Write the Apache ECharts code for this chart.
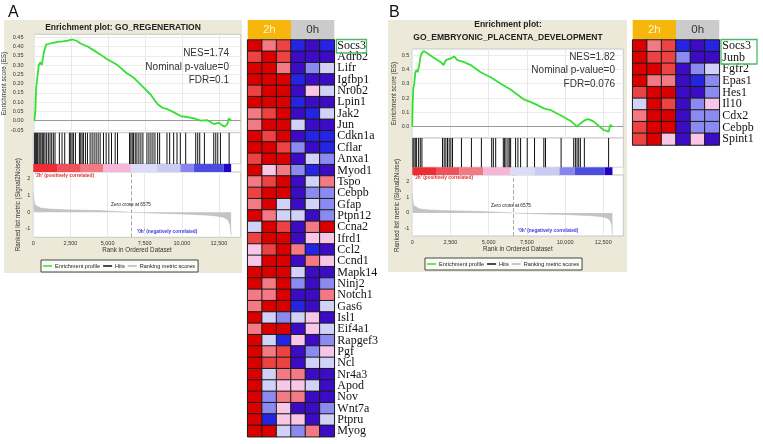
<!DOCTYPE html>
<html><head><meta charset="utf-8">
<script src="https://cdn.jsdelivr.net/npm/echarts@6/dist/echarts.min.js"></script>
<style>html,body{margin:0;padding:0;background:#fff}#c{width:763px;height:444px}</style>
</head><body><div id="c"></div>
<script>
// ---------------- DATA ----------------
const ES_A_RANK = [0,68,113,180,293,405,495,630,788,1013,1238,1577,1913,2250,2588,2880,3150,3600,4050,4500,4950,5625,6188,6750,7313,7875,8325,8663,9000,9450,9900,10350,10800,11250,11700,12150,12488,12713,12870,13050,13163,13320];
const ES_A_VAL  = [0,0.06,0.175,0.22,0.30,0.315,0.30,0.365,0.41,0.415,0.42,0.425,0.428,0.432,0.438,0.43,0.415,0.40,0.378,0.355,0.33,0.30,0.26,0.23,0.185,0.14,0.09,0.07,0.062,0.045,0.025,0.02,0.013,0.0,0.003,-0.018,-0.01,-0.025,-0.032,-0.02,0.013,0.0];
const HITS_A = [90,158,225,293,383,450,518,608,698,788,900,1013,1125,1238,1350,1463,1755,1935,2115,2430,2520,2610,2700,2835,3105,3195,3285,3375,3510,3645,3825,3960,4095,4230,4365,4500,4725,4905,5085,5265,5513,5670,6480,6570,6660,6750,6863,6975,7110,7245,7380,7650,7785,7920,8055,8190,8370,8505,9000,9180,9450,9675,9900,10260,10935,11070,11205,11520,12150,12285,12420,12600,13185];
const RANKED_A_RANK = [0,30,80,150,250,500,1100,2500,4500,5500,6575,8000,10000,11500,12300,12800,13100,13250,13320];
const RANKED_A_VAL  = [1.2,0.85,0.55,0.42,0.33,0.25,0.19,0.14,0.1,0.05,0,-0.05,-0.1,-0.16,-0.22,-0.3,-0.45,-0.75,-1.4];
const COLORBAR_A = [0,1600,3200,4725,6570,8300,9900,10800,12825,13320];

const ES_B_RANK = [0,22,65,130,196,283,348,457,522,609,739,1000,1435,1870,2043,2196,2522,2739,2957,3391,3826,4478,5130,5783,6435,7304,7957,8609,9043,9696,10348,10783,11000,11326,11543,11870,12522,12848,12957,13100];
const ES_B_VAL  = [0,0.15,0.27,0.30,0.38,0.395,0.38,0.43,0.48,0.51,0.528,0.51,0.48,0.45,0.43,0.465,0.477,0.49,0.465,0.45,0.43,0.38,0.345,0.30,0.26,0.19,0.163,0.128,0.116,0.08,0.042,0,0.023,0.047,0.053,0.035,-0.023,-0.035,0.012,0];
const HITS_B = [43,109,196,283,413,522,630,1978,2087,2196,2304,2413,2522,2630,3217,3870,4522,5196,5304,5457,5957,6043,6130,6261,6348,6435,6761,6913,7087,7522,8000,8609,8717,9739,10565,10674,10783,10891,11000,11261,12848];
const RANKED_B_RANK = [0,30,80,150,250,500,1100,2500,4500,5500,6575,8000,10000,11500,12300,12700,12950,13050,13100];
const RANKED_B_VAL  = [1.2,0.85,0.55,0.42,0.33,0.25,0.19,0.14,0.1,0.05,0,-0.05,-0.1,-0.16,-0.22,-0.3,-0.45,-0.75,-1.4];
const COLORBAR_B = [0,1550,3100,4630,6435,8000,9630,10630,12590,13100];

const RANK_TICKS = [0,2500,5000,7500,10000,12500];
const ES_A_TICKS = [-0.05,0,0.05,0.1,0.15,0.2,0.25,0.3,0.35,0.4,0.45];
const ES_B_TICKS = [0,0.1,0.2,0.3,0.4,0.5];
const RANKED_TICKS = [-1,0,1,2];
const ZERO_CROSS = 6575;

const GROUPS = ['2h','0h'];
const SAMPLES = ['2h_1','2h_2','2h_3','0h_1','0h_2','0h_3'];
const GENES_A = ['Socs3','Adrb2','Lifr','Igfbp1','Nr0b2','Lpin1','Jak2','Jun','Cdkn1a','Cflar','Anxa1','Myod1','Tspo','Cebpb','Gfap','Ptpn12','Ccna2','Ifrd1','Ccl2','Ccnd1','Mapk14','Ninj2','Notch1','Gas6','Isl1','Eif4a1','Rapgef3','Pgf','Ncl','Nr4a3','Apod','Nov','Wnt7a','Ptpru','Myog'];
const LEVELS_A = [
 [7,5,6,1,0,1],[6,7,6,0,0,0],[7,7,5,0,2,3],[7,7,7,1,0,0],[6,7,7,0,4,3],
 [7,7,7,1,0,0],[5,6,7,0,1,3],[5,7,7,3,0,0],[7,6,7,0,1,1],[7,7,6,2,0,1],
 [6,7,7,0,3,2],[7,4,5,2,1,0],[5,6,7,0,3,5],[6,7,7,0,2,2],[5,7,3,0,3,2],
 [7,5,3,3,0,2],[3,7,6,0,5,7],[6,7,7,0,4,4],[4,6,7,5,1,0],[4,7,7,0,5,4],
 [7,7,7,3,0,0],[7,5,7,2,0,2],[5,5,7,0,0,5],[5,7,7,1,0,3],[7,3,2,3,4,0],
 [5,7,7,0,4,3],[7,3,1,4,0,2],[7,5,6,0,2,4],[7,6,6,0,3,3],[7,3,5,5,0,0],
 [7,3,4,4,3,0],[7,2,5,5,0,0],[7,2,4,0,0,2],[7,1,4,4,0,3],[7,7,3,2,5,0]
];
const GENES_B = ['Socs3','Junb','Fgfr2','Epas1','Hes1','Il10','Cdx2','Cebpb','Spint1'];
const LEVELS_B = [
 [7,5,6,1,0,1],[7,6,6,2,0,0],[7,7,6,0,2,3],[7,5,5,0,1,2],[6,7,7,0,0,2],
 [3,7,6,0,2,4],[5,7,7,0,2,2],[6,7,7,0,2,2],[6,7,4,0,4,0]
];

// ---------------- STYLES ----------------
const LEVEL_COLORS = ['#3c0cc4','#2424e2','#8a8af0','#d2d2f8','#f8c6e6','#f37a84','#ec4242','#da0000'];
const BAR_COLORS = ['#ec2e34','#ef5258','#f27a84','#f6b6d8','#dcdcf8','#cacaf4','#8686ee','#4c4ce2','#2200c4'];
const SANS = 'Liberation Sans';
const GREEN = '#33e033';

function pairs(xs, ys){ return xs.map((x,i)=>[x, ys[i]]); }
function segs(b){ const r=[]; for(let i=0;i<b.length-1;i++) r.push([b[i], b[i+1]]); return r; }
function barRender(params, api){
  const a = api.coord([api.value(0), 1]);
  const b = api.coord([api.value(1), 0]);
  return {type:'rect', shape:{x:a[0], y:a[1], width:b[0]-a[0], height:b[1]-a[1]}, style:{fill:BAR_COLORS[params.dataIndex]}};
}
function heat(levels){ const d=[]; levels.forEach((row,r)=>row.forEach((v,c)=>d.push([c,r,v]))); return d; }
const fmtRank = v => Number(v).toLocaleString('en-US');

const P = {
  A:{left:33.3, width:207.4, xmax:13964,
     es:[34.3,98.4,-0.0646,0.466], hits:[132.7,31.3], bar:[164,8], rk:[172,65.3,-1.5,2.41],
     esLabelMargin:11, esNameGap:18, rkNameGap:9.6, esTicks:ES_A_TICKS, esDigits:2},
  B:{left:412.3, width:211, xmax:13810,
     es:[49,89,-0.0789,0.542], hits:[138,29.3], bar:[167.3,7.7], rk:[175,61,-1.44,2.375],
     esLabelMargin:3, esNameGap:12, rkNameGap:9.4, esTicks:ES_B_TICKS, esDigits:1}
};

const grid=[], xAxis=[], yAxis=[], series=[];
function addPanel(p, esR, esV, hits, rkR, rkV, bars){
  const base = grid.length;
  grid.push({left:p.left, width:p.width, top:p.es[0], height:p.es[1], show:true, backgroundColor:'#fff', borderColor:'#c8c8c8', borderWidth:1});
  grid.push({left:p.left, width:p.width, top:p.hits[0], height:p.hits[1], show:true, backgroundColor:'#fff', borderColor:'#c8c8c8', borderWidth:1});
  grid.push({left:p.left, width:p.width, top:p.bar[0], height:p.bar[1], show:true, backgroundColor:'#fff', borderColor:'#c8c8c8', borderWidth:0.5});
  grid.push({left:p.left, width:p.width, top:p.rk[0], height:p.rk[1], show:true, backgroundColor:'#fff', borderColor:'#c8c8c8', borderWidth:1});
  const xCommon = {type:'value', min:0, max:p.xmax, axisLine:{show:false}, axisTick:{show:false, customValues:RANK_TICKS}};
  for(let i=0;i<4;i++){
    const isRk = i===3;
    xAxis.push(Object.assign({}, xCommon, {
      gridIndex:base+i,
      axisLabel: isRk ? {show:true, customValues:RANK_TICKS, formatter:fmtRank, fontSize:5.5, color:'#333', fontFamily:SANS, margin:3} : {show:false, customValues:RANK_TICKS},
      splitLine:{show:(i===0||i===3), lineStyle:{color:'#e8e8e8', width:1}},
      name: isRk ? 'Rank in Ordered Dataset' : '', nameLocation:'middle', nameGap:9.5,
      nameTextStyle:{fontSize:6.3, color:'#333', fontFamily:SANS}
    }));
  }
  yAxis.push({type:'value', gridIndex:base, min:p.es[2], max:p.es[3], axisLine:{show:false},
    axisTick:{show:false, customValues:p.esTicks},
    axisLabel:{customValues:p.esTicks, formatter:v=>Number(v).toFixed(p.esDigits), fontSize:5.5, color:'#333', fontFamily:SANS, margin:p.esLabelMargin},
    splitLine:{show:true, lineStyle:{color:'#ececec'}},
    name:'Enrichment score (ES)', nameLocation:'middle', nameGap:p.esNameGap, nameRotate:90,
    nameTextStyle:{fontSize:6.3, color:'#333', fontFamily:SANS}});
  yAxis.push({type:'value', gridIndex:base+1, min:0, max:1, show:false});
  yAxis.push({type:'value', gridIndex:base+2, min:0, max:1, show:false});
  yAxis.push({type:'value', gridIndex:base+3, min:p.rk[2], max:p.rk[3], axisLine:{show:false},
    axisTick:{show:false, customValues:RANKED_TICKS},
    axisLabel:{customValues:RANKED_TICKS, fontSize:5.5, color:'#333', fontFamily:SANS, margin:3},
    splitLine:{show:false},
    name:'Ranked list metric (Signal2Noise)', nameLocation:'middle', nameGap:p.rkNameGap, nameRotate:90,
    nameTextStyle:{fontSize:6.3, color:'#333', fontFamily:SANS}});
  series.push({type:'line', name:'Enrichment profile', xAxisIndex:base, yAxisIndex:base, data:pairs(esR, esV),
    symbol:'none', lineStyle:{color:GREEN, width:1.8}, itemStyle:{color:GREEN}, z:5,
    markLine:{silent:true, symbol:'none', label:{show:false}, lineStyle:{color:'#9a9a9a', width:1, type:'solid'}, data:[{yAxis:0}]}});
  series.push({type:'bar', name:'Hits', xAxisIndex:base+1, yAxisIndex:base+1, data:hits.map(h=>[h,1]),
    barWidth:1, itemStyle:{color:'#111'}});
  series.push({type:'custom', name:'colorbar', xAxisIndex:base+2, yAxisIndex:base+2, data:segs(bars), renderItem:barRender});
  series.push({type:'line', name:'Ranking metric scores', xAxisIndex:base+3, yAxisIndex:base+3, data:pairs(rkR, rkV),
    symbol:'none', lineStyle:{color:'#b8b8b8', width:0.5}, itemStyle:{color:'#b8b8b8'}, areaStyle:{color:'#c4c4c4', opacity:1},
    markLine:{silent:true, symbol:'none', label:{show:false}, lineStyle:{color:'#aaa', width:1, type:'dashed'}, data:[{xAxis:ZERO_CROSS}]}});
}
addPanel(P.A, ES_A_RANK, ES_A_VAL, HITS_A, RANKED_A_RANK, RANKED_A_VAL, COLORBAR_A);
addPanel(P.B, ES_B_RANK, ES_B_VAL, HITS_B, RANKED_B_RANK, RANKED_B_VAL, COLORBAR_B);

function addHeat(left, top, width, height, genes, levels){
  const g = grid.length;
  grid.push({left, top, width, height});
  xAxis.push({type:'category', gridIndex:g, data:SAMPLES, show:false});
  xAxis.push({type:'category', gridIndex:g, data:GROUPS, position:'top', axisLine:{show:false}, axisTick:{show:false},
    axisLabel:{interval:0, margin:0.5, formatter:v=> v==='2h' ? '{a|2h}' : '{b|0h}',
      rich:{a:{backgroundColor:'#f6b60c', color:'#fff6d0', width:width/2, height:19.5, lineHeight:19.5, align:'center', fontSize:11.5, fontFamily:SANS},
            b:{backgroundColor:'#cbcbcb', color:'#333', width:width/2, height:19.5, lineHeight:19.5, align:'center', fontSize:11.5, fontFamily:SANS}}}});
  const yi = yAxis.length;
  yAxis.push({type:'category', gridIndex:g, data:genes, inverse:true, position:'right', axisLine:{show:false}, axisTick:{show:false},
    axisLabel:{interval:0, margin:3, fontFamily:'Liberation Serif', fontSize:12, color:'#111'}});
  series.push({type:'heatmap', name:'heat', xAxisIndex:xAxis.length-2, yAxisIndex:yi, data:heat(levels),
    itemStyle:{borderColor:'#1a1a1a', borderWidth:1}, emphasis:{disabled:true}});
  return series.length-1;
}
const hA = addHeat(247.7, 40, 86.6, 396.7, GENES_A, LEVELS_A);
const hB = addHeat(632.7, 40, 86.6, 105, GENES_B, LEVELS_B);

function txt(x,y,text,size,opts){
  return Object.assign({type:'text', x, y, z:100, style:Object.assign({text, fontSize:size, fontFamily:SANS, fill:'#333',
    align:'left', verticalAlign:'middle'}, opts||{})});
}
const graphic = [
  {type:'rect', z:-10, shape:{x:4, y:20, width:238, height:253}, style:{fill:'#ece9d8'}},
  {type:'rect', z:-10, shape:{x:388, y:20, width:239, height:252}, style:{fill:'#ece9d8'}},
  txt(8,13,'A',16,{fill:'#111'}),
  txt(389,13,'B',16,{fill:'#111'}),
  txt(123,27.5,'Enrichment plot: GO_REGENERATION',8.5,{fontWeight:'bold', align:'center', fill:'#222'}),
  txt(508,25,'Enrichment plot:',8.5,{fontWeight:'bold', align:'center', fill:'#222'}),
  txt(508,38,'GO_EMBRYONIC_PLACENTA_DEVELOPMENT',8.5,{fontWeight:'bold', align:'center', fill:'#222'}),
  txt(229,53.5,'NES=1.74',10,{align:'right'}),
  txt(229,67,'Nominal p-value=0',10,{align:'right'}),
  txt(229,80.5,'FDR=0.1',10,{align:'right'}),
  txt(615,57,'NES=1.82',10,{align:'right'}),
  txt(615,70.5,'Nominal p-value=0',10,{align:'right'}),
  txt(615,84,'FDR=0.076',10,{align:'right'}),
  txt(35,175.7,"'2h' (positively correlated)",4.8,{fill:'#e03030', fontWeight:'bold'}),
  txt(131,205,'Zero cross at 6575',4.8,{align:'center', fill:'#222'}),
  txt(137,232,"'0h' (negatively correlated)",4.8,{fill:'#3a3ae0', fontWeight:'bold'}),
  txt(414,178,"'2h' (positively correlated)",4.8,{fill:'#e03030', fontWeight:'bold'}),
  txt(511,206,'Zero cross at 6575',4.8,{align:'center', fill:'#222'}),
  txt(518,231,"'0h' (negatively correlated)",4.8,{fill:'#3a3ae0', fontWeight:'bold'}),
  {type:'rect', z:100, shape:{x:336.5, y:39.5, width:30, height:13.5}, style:{fill:'none', stroke:'#4cb86a', lineWidth:1.3}},
  {type:'rect', z:100, shape:{x:721, y:39.5, width:36, height:24.5}, style:{fill:'none', stroke:'#4cb86a', lineWidth:1.3}}
];

const legendCommon = {orient:'horizontal', icon:'rect', itemWidth:9, itemHeight:1.5, itemGap:3, padding:[3,3,3,2],
  selectedMode:false, borderColor:'#444', borderWidth:1, backgroundColor:'#fbfbf8',
  textStyle:{fontSize:5.6, color:'#222', fontFamily:SANS, padding:[0,0,0,-2]}, data:['Enrichment profile','Hits','Ranking metric scores']};

const chart = echarts.init(document.getElementById('c'), null, {renderer:'canvas'});
chart.setOption({
  animation:false,
  backgroundColor:'#fff',
  grid, xAxis, yAxis, series, graphic,
  legend:[Object.assign({left:41, top:260}, legendCommon), Object.assign({left:425, top:258}, legendCommon)],
  visualMap:{type:'piecewise', show:false, dimension:2, seriesIndex:[hA,hB],
    pieces:LEVEL_COLORS.map((c,i)=>({value:i, color:c}))}
});
</script></body></html>
